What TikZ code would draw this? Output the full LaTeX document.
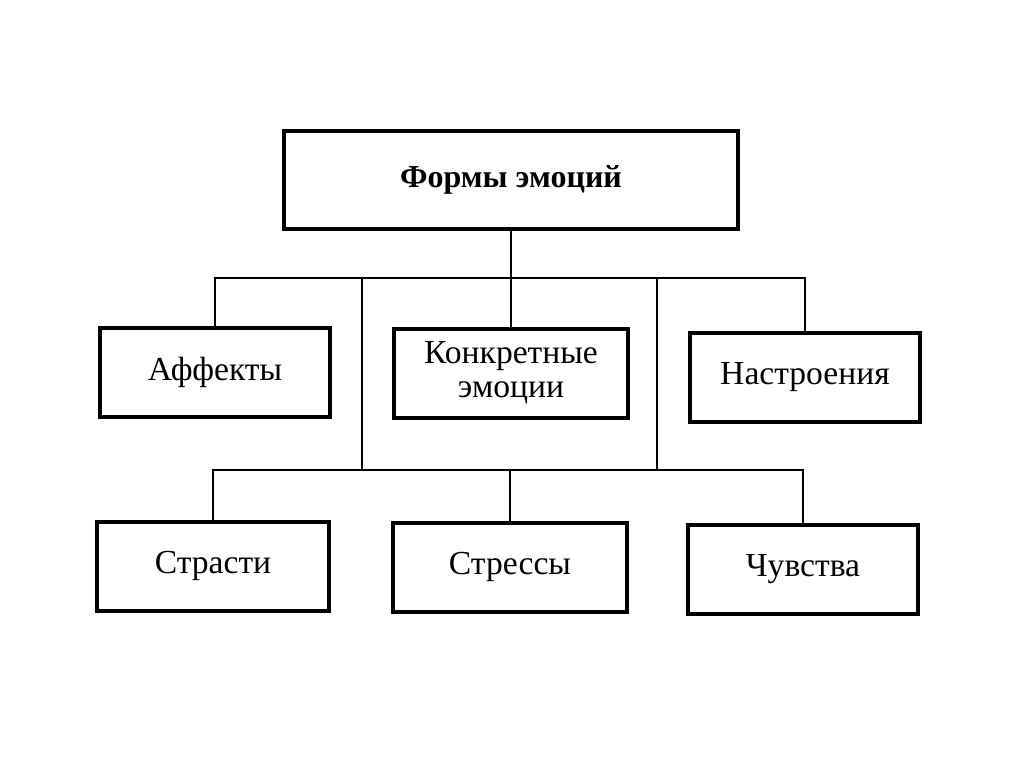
\documentclass[tikz,border=0pt]{standalone}
\usepackage{fontspec}
\setmainfont{Liberation Serif}
\usetikzlibrary{positioning}

\begin{document}
\begin{tikzpicture}[
    x=0.5pt, y=-0.5pt,
    box/.style={rectangle, draw, line width=2pt,
                minimum width=115pt, minimum height=44.5pt,
                font=\fontsize{16.8}{17}\selectfont, align=center, fill=white},
    topbox/.style={box, minimum width=227pt, minimum height=49pt,
                font=\fontsize{16}{16.5}\selectfont\bfseries},
    link/.style={line width=1.4pt}
]
\useasboundingbox (0,0) rectangle (1024,767);

%% -- top --
\node[topbox] (forms) at (511,180) {Формы эмоций};

%% -- middle row --
\node[box] (affects)  at (215,372) {Аффекты};
\node[box, minimum width=117pt] (concrete) at (511,373) {Конкретные\\эмоции};
\node[box] (mood)     at (805,377) {Настроения};

%% -- bottom row --
\node[box, minimum width=116pt] (passions) at (213,566) {Страсти};
\node[box, minimum width=117pt] (stress)   at (510,567) {Стрессы};
\node[box] (feelings) at (803,569) {Чувства};

%% -- connectors --
\coordinate (j1) at (511,278);
\coordinate (j2) at (510,470);
\coordinate (a1) at (362,278);
\coordinate (a2) at (362,470);
\coordinate (b1) at (657,278);
\coordinate (b2) at (657,470);

\draw[link] (forms) -- (j1);
\draw[link] (affects.north) |- (j1) -| (mood.north);
\draw[link] (concrete) -- (j1);
\draw[link] (a1) -- (a2);
\draw[link] (b1) -- (b2);
\draw[link] (passions.north) |- (j2) -| (feelings.north);
\draw[link] (stress) -- (j2);

\end{tikzpicture}
\end{document}
